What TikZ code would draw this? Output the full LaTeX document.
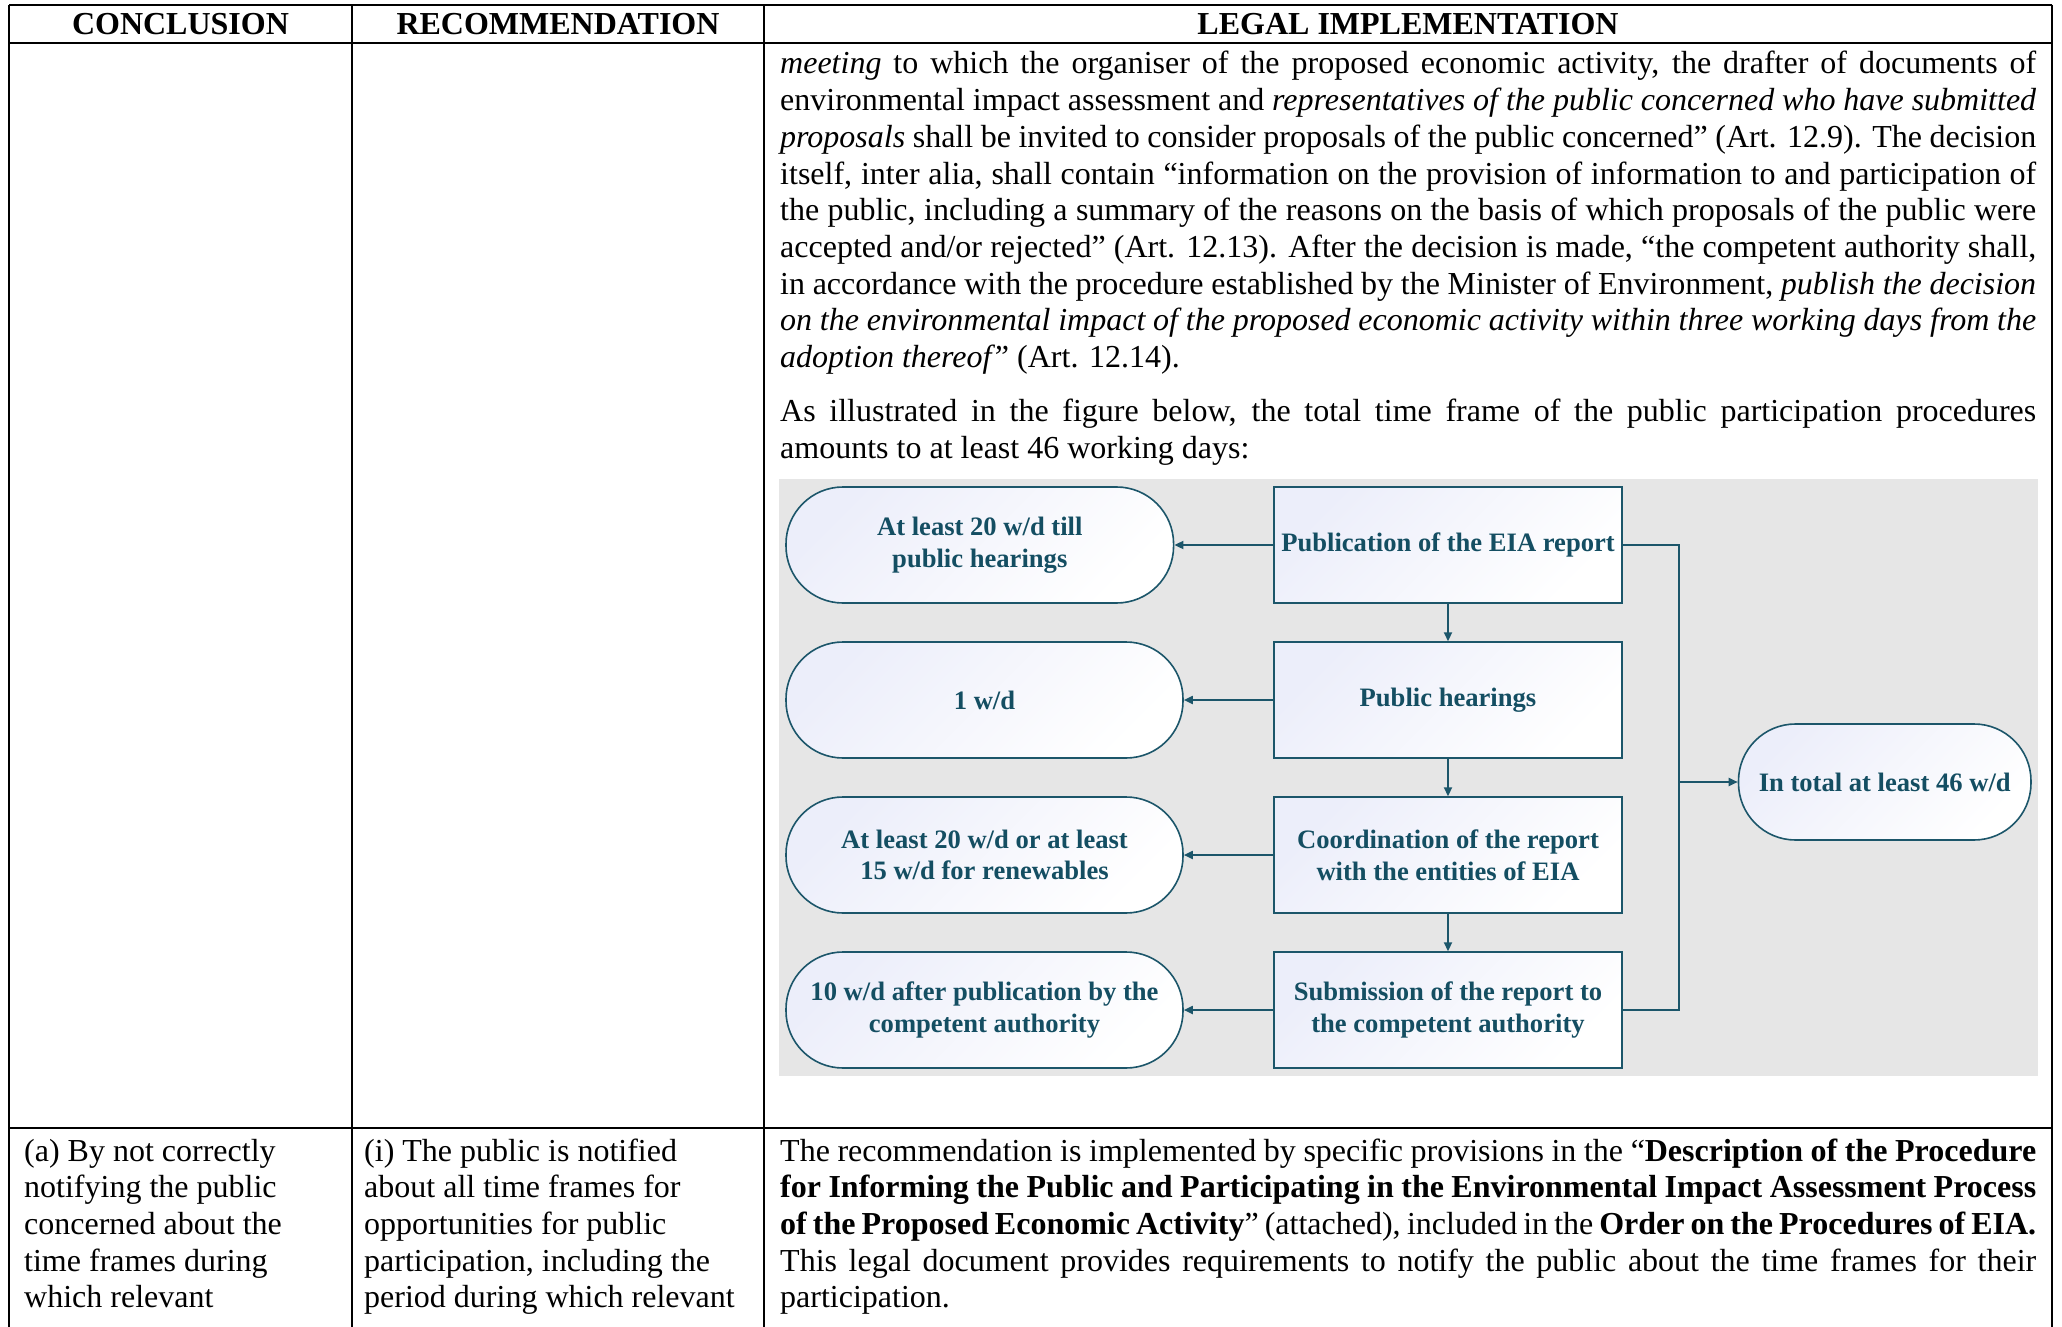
\documentclass[tikz,border=0pt]{standalone}
\usepackage{fontspec}
\setmainfont{Liberation Serif}
\usetikzlibrary{arrows.meta}
\definecolor{figteal}{RGB}{20,78,98}
\definecolor{figline}{RGB}{28,86,106}
\definecolor{figbg}{RGB}{230,230,230}
\definecolor{lav}{RGB}{236,238,250}
\newlength\colw \setlength\colw{1256pt}
\newcommand\jl[1]{\hbox to\colw{#1}}
\newcommand\rl[1]{\hbox{#1}}
\newcommand\txtblock[1]{\vtop{\fontsize{32}{36.7}\selectfont #1}}
\tikzset{
  tblline/.style={line width=2pt, black},
  hdr/.style={anchor=base, inner sep=0, font=\fontsize{32}{36.7}\selectfont\bfseries},
  bodytxt/.style={anchor=base west, inner sep=0},
  gradfill/.style={top color=lav, bottom color=white, shading angle=45},
  stad/.style={gradfill, draw=figline, line width=1.6pt, rounded corners=57pt, minimum height=116pt, inner sep=0,
    text=figteal, font=\fontsize{26.6}{31.7}\selectfont\bfseries, align=center},
  stepbox/.style={gradfill, draw=figline, line width=1.4pt, minimum width=348pt, minimum height=116pt, inner sep=0,
    text=figteal, font=\fontsize{26.6}{31.7}\selectfont\bfseries, align=center},
  conn/.style={draw=figline, line width=1.8pt, -{Triangle[length=9pt,width=8pt]}},
  bus/.style={draw=figline, line width=1.8pt}
}
\begin{document}
\begin{tikzpicture}[x=1pt,y=-1pt]
\useasboundingbox (0,0) rectangle (2062,1327);
% table grid
\draw[tblline] (9,4.7) -- (2052,4.7);
\draw[tblline] (9,42.7) -- (2052,42.7);
\draw[tblline] (9,1128) -- (2052,1128);
\draw[tblline] (9,4.7) -- (9,1327);
\draw[tblline] (352,4.7) -- (352,1327);
\draw[tblline] (764,4.7) -- (764,1327);
\draw[tblline] (2052,4.7) -- (2052,1327);
% headers
\node[hdr] (h1) at (180.5,35) {CONCLUSION};
\node[hdr] (h2) at (558,35) {RECOMMENDATION};
\node[hdr] (h3) at (1408,35) {LEGAL IMPLEMENTATION};
% column 3 text, upper row
\node[bodytxt] (p1) at (780,74) {\txtblock{%
\jl{\textit{meeting} to which the organiser of the proposed economic activity, the drafter of documents of}
\jl{environmental impact assessment and \textit{representatives of the public concerned who have submitted}}
\jl{\textit{proposals} shall be invited to consider proposals of the public concerned” (Art. 12.9). The decision}
\jl{itself, inter alia, shall contain “information on the provision of information to and participation of}
\jl{the public, including a summary of the reasons on the basis of which proposals of the public were}
\jl{accepted and/or rejected” (Art. 12.13). After the decision is made, “the competent authority shall,}
\jl{in accordance with the procedure established by the Minister of Environment, \textit{publish the decision}}
\jl{\textit{on the environmental impact of the proposed economic activity within three working days from the}}
\rl{\textit{adoption thereof”} (Art. 12.14).}}};
\node[bodytxt] (p2) at (780,421.5) {\txtblock{%
\jl{As illustrated in the figure below, the total time frame of the public participation procedures}
\rl{amounts to at least 46 working days:}}};
% figure
\fill[figbg] (778.6,479.3) rectangle (2038,1076);
\node[stad, minimum width=387.6pt] (s1) at (979.8,545) {At least 20 w/d till\\public hearings};
\node[stad, minimum width=397pt] (s2) at (984.5,700) {1 w/d};
\node[stad, minimum width=397pt] (s3) at (984.5,855) {At least 20 w/d or at least\\15 w/d for renewables};
\node[stad, minimum width=397pt] (s4) at (984.5,1010) {10 w/d after publication by the\\competent authority};
\node[stepbox] (r1) at (1448,545) {Publication of the EIA report};
\node[stepbox] (r2) at (1448,700) {Public hearings};
\node[stepbox] (r3) at (1448,855) {Coordination of the report\\with the entities of EIA};
\node[stepbox] (r4) at (1448,1010) {Submission of the report to\\the competent authority};
\node[stad, minimum width=292.5pt] (tot) at (1884.75,782) {In total at least 46 w/d};
\draw[conn] (r1.west) -- (s1.east);
\draw[conn] (r2.west) -- (s2.east);
\draw[conn] (r3.west) -- (s3.east);
\draw[conn] (r4.west) -- (s4.east);
\draw[conn] (r1.south) -- (r2.north);
\draw[conn] (r2.south) -- (r3.north);
\draw[conn] (r3.south) -- (r4.north);
\coordinate (bt) at (1678.7,545);
\coordinate (bb) at (1678.7,1010);
\coordinate (bm) at (1678.7,782);
\draw[bus] (r1.east) -- (bt) -- (bb) -- (r4.east);
\draw[conn] (bm) -- (tot.west);
% lower row
\node[bodytxt] (c1) at (24,1161) {\txtblock{%
\rl{(a) By not correctly}
\rl{notifying the public}
\rl{concerned about the}
\rl{time frames during}
\rl{which relevant}}};
\node[bodytxt] (c2) at (364,1161) {\txtblock{%
\rl{(i) The public is notified}
\rl{about all time frames for}
\rl{opportunities for public}
\rl{participation, including the}
\rl{period during which relevant}}};
\node[bodytxt] (c3) at (780,1161) {\txtblock{%
\jl{The recommendation is implemented by specific provisions in the “\textbf{Description of the Procedure}}
\jl{\textbf{for Informing the Public and Participating in the Environmental Impact Assessment Process}}
\jl{\textbf{of the Proposed Economic Activity}” (attached), included in the \textbf{Order on the Procedures of EIA.}}
\jl{This legal document provides requirements to notify the public about the time frames for their}
\rl{participation.}}};
\end{tikzpicture}
\end{document}
